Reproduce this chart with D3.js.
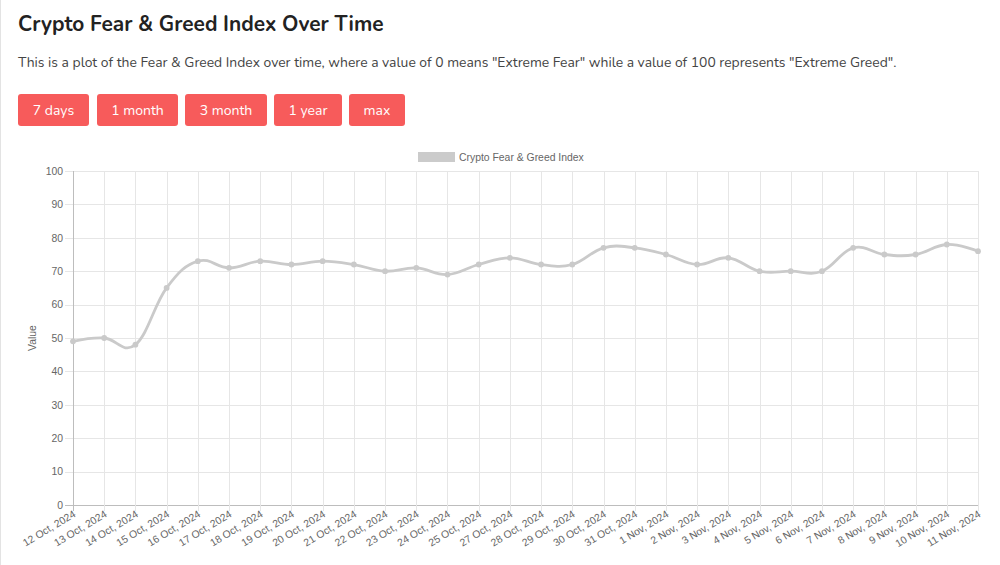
<!DOCTYPE html>
<html>
<head>
<meta charset="utf-8">
<script src="https://cdn.jsdelivr.net/npm/d3@7"></script>
<style>
  html, body { margin: 0; padding: 0; background: #fff; }
  svg { display: block; }
</style>
</head>
<body>
<div id="draw"></div>
<script>
var dates = [
  "12 Oct, 2024", "13 Oct, 2024", "14 Oct, 2024", "15 Oct, 2024", "16 Oct, 2024",
  "17 Oct, 2024", "18 Oct, 2024", "19 Oct, 2024", "20 Oct, 2024", "21 Oct, 2024",
  "22 Oct, 2024", "23 Oct, 2024", "24 Oct, 2024", "25 Oct, 2024", "27 Oct, 2024",
  "28 Oct, 2024", "29 Oct, 2024", "30 Oct, 2024", "31 Oct, 2024", "1 Nov, 2024",
  "2 Nov, 2024", "3 Nov, 2024", "4 Nov, 2024", "5 Nov, 2024", "6 Nov, 2024",
  "7 Nov, 2024", "8 Nov, 2024", "9 Nov, 2024", "10 Nov, 2024", "11 Nov, 2024"
];
var values = [49, 50, 48, 65, 73, 71, 73, 72, 73, 72, 70, 71, 69, 72, 74,
              72, 72, 77, 77, 75, 72, 74, 70, 70, 70, 77, 75, 75, 78, 76];
var yTicks = [0, 10, 20, 30, 40, 50, 60, 70, 80, 90, 100];
var buttons = ["7 days", "1 month", "3 month", "1 year", "max"];
var seriesName = "Crypto Fear & Greed Index";

var W = 1000, H = 565;
var svg = d3.select('#draw').append('svg').attr('width', W).attr('height', H);

// left page border
svg.append('line').attr('x1', 0.5).attr('x2', 0.5).attr('y1', 0).attr('y2', H)
  .attr('stroke', '#e3e3e3');

// heading + description
var pageFont = "Nunito, 'Noto Sans', 'Open Sans', sans-serif";
svg.append('text').attr('x', 18).attr('y', 31)
  .attr('font-family', pageFont).attr('font-weight', 700).attr('font-size', 20.9)
  .attr('fill', '#222').text('Crypto Fear & Greed Index Over Time');
svg.append('text').attr('x', 18).attr('y', 67)
  .attr('font-family', pageFont).attr('font-size', 13.9)
  .attr('fill', '#444')
  .text('This is a plot of the Fear & Greed Index over time, where a value of 0 means "Extreme Fear" while a value of 100 represents "Extreme Greed".');

// buttons
var btnX = [18, 97, 185, 274, 349], btnW = [71, 81, 82, 68, 56];
var bg = svg.selectAll('g.btn').data(buttons).enter().append('g').attr('class', 'btn')
  .attr('transform', function(d, i){ return 'translate(' + btnX[i] + ',94)'; });
bg.append('rect').attr('width', function(d, i){ return btnW[i]; }).attr('height', 32)
  .attr('rx', 3).attr('fill', '#f75b5b');
bg.append('text').attr('x', function(d, i){ return btnW[i] / 2; }).attr('y', 20.5)
  .attr('text-anchor', 'middle').attr('font-family', pageFont).attr('font-size', 14)
  .attr('fill', '#fff').text(function(d){ return d; });

// chart area
var pLeft = 73, pRight = 978, pTop = 171, pBottom = 505;
var chartFont = "'Liberation Sans', Arial, Helvetica, sans-serif";
var fs = 10.4;
var x = d3.scalePoint().domain(dates).range([pLeft, pRight]).padding(0);
var y = d3.scaleLinear().domain([0, 100]).range([pBottom, pTop]);

var grid = svg.append('g');
grid.selectAll('line.h').data(yTicks).enter().append('line')
  .attr('x1', pLeft - 8).attr('x2', pRight)
  .attr('y1', function(d){ return Math.round(y(d)) + 0.5; })
  .attr('y2', function(d){ return Math.round(y(d)) + 0.5; })
  .attr('stroke', function(d){ return d === 0 ? '#bdbdbd' : '#e6e6e6'; });
grid.selectAll('line.v').data(dates).enter().append('line')
  .attr('y1', pTop).attr('y2', pBottom + 6)
  .attr('x1', function(d){ return Math.round(x(d)) + 0.5; })
  .attr('x2', function(d){ return Math.round(x(d)) + 0.5; })
  .attr('stroke', function(d, i){ return i === 0 ? '#bdbdbd' : '#e6e6e6'; });

// y axis labels
var yAxis = svg.append('g').attr('transform', 'translate(' + (pLeft - 8) + ',0)')
  .call(d3.axisLeft(y).tickValues(yTicks).tickSize(0).tickPadding(2));
yAxis.select('.domain').remove();
yAxis.selectAll('text').attr('font-family', chartFont).attr('font-size', fs).attr('fill', '#666');

// x axis labels
var xAxis = svg.append('g').attr('transform', 'translate(0,' + pBottom + ')')
  .call(d3.axisBottom(x).tickSize(0));
xAxis.select('.domain').remove();
xAxis.selectAll('text')
  .attr('font-family', chartFont).attr('font-size', fs).attr('fill', '#666')
  .attr('text-anchor', 'end').attr('dy', null).attr('y', 0)
  .attr('transform', 'translate(3,11) rotate(-31)');

// y axis title
svg.append('text').attr('transform', 'translate(36,338) rotate(-90)')
  .attr('text-anchor', 'middle').attr('font-family', chartFont).attr('font-size', fs)
  .attr('fill', '#666').text('Value');

// legend
svg.append('rect').attr('x', 418).attr('y', 152).attr('width', 37).attr('height', 10)
  .attr('fill', '#cbcbcb');
svg.append('text').attr('x', 459).attr('y', 161).attr('font-family', chartFont)
  .attr('font-size', fs).attr('fill', '#666').text(seriesName);

// line + points
var line = d3.line()
  .x(function(d, i){ return x(dates[i]); })
  .y(function(d){ return y(d); })
  .curve(d3.curveCardinal.tension(-0.2));
svg.append('path').datum(values).attr('d', line)
  .attr('fill', 'none').attr('stroke', '#cacaca').attr('stroke-width', 2.8);
svg.selectAll('circle.pt').data(values).enter().append('circle')
  .attr('cx', function(d, i){ return x(dates[i]); })
  .attr('cy', function(d){ return y(d); })
  .attr('r', 2.9).attr('fill', '#cacaca');
</script>
</body>
</html>
